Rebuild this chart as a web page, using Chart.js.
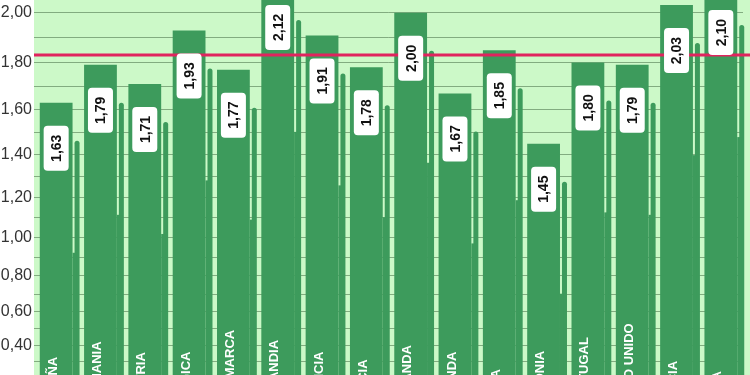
<!DOCTYPE html>
<html lang="es">
<head>
<meta charset="utf-8">
<title>Gráfico por países</title>
<script src="https://cdn.jsdelivr.net/npm/chart.js@4.4.1/dist/chart.umd.min.js"></script>
<style>
    html, body { margin: 0; padding: 0; background: #ffffff; }
    #contenedor { position: relative; width: 750px; height: 375px; overflow: hidden; }
</style>
</head>
<body>
<div id="contenedor"><canvas id="grafico"></canvas></div>
<script>
// Datos del gráfico
const paises = ['ESPAÑA', 'ALEMANIA', 'AUSTRIA', 'BÉLGICA', 'DINAMARCA', 'FINLANDIA', 'FRANCIA', 'GRECIA',
    'HOLANDA', 'IRLANDA', 'ITALIA', 'POLONIA', 'PORTUGAL', 'REINO UNIDO', 'SUECIA', 'SUIZA'];
const valores = [1.63, 1.79, 1.71, 1.93, 1.77, 2.12, 1.91, 1.78, 2.00, 1.67, 1.85, 1.45, 1.80, 1.79, 2.03, 2.10];
const media = 1.83;

// Líneas de la cuadrícula y etiquetas del eje Y
const lineasGuia = [0.3, 0.4, 0.5, 0.6, 0.7, 0.8, 0.9, 1.0, 1.1, 1.2, 1.3, 1.4, 1.5, 1.6, 1.7, 1.8, 1.9, 2.0];
const etiquetasEje = ['0,20', '0,40', '0,60', '0,80', '1,00', '1,20', '1,40', '1,60', '1,80', '2,00'];

const VERDE_BARRA = '#3d9b5c';
const VERDE_FONDO = '#ccf9c8';
const CURVA = 0.26; // el eje de la imagen original se estira hacia arriba

function formatoComa(v) {
    return v.toFixed(2).replace('.', ',');
}

// Escala lineal con una ligera curvatura (perspectiva de la foto original)
class EscalaCurva extends Chart.LinearScale {
    getPixelForValue(value) {
        if (value === undefined || value === null) {
            return NaN;
        }
        const t = (value - this.min) / (this.max - this.min);
        return this.getPixelForDecimal(t * (1 - CURVA + CURVA * t));
    }
    getValueForPixel(pixel) {
        const d = this.getDecimalForPixel(pixel);
        const b = 1 - CURVA;
        const t = (-b + Math.sqrt(b * b + 4 * CURVA * d)) / (2 * CURVA);
        return this.min + t * (this.max - this.min);
    }
}
EscalaCurva.id = 'curva';
EscalaCurva.defaults = Chart.LinearScale.defaults;
Chart.register(EscalaCurva);

// Fondo verde claro del área de trazado
const pluginFondo = {
    id: 'fondo',
    beforeDraw(chart) {
        const { ctx, chartArea } = chart;
        ctx.save();
        ctx.fillStyle = VERDE_FONDO;
        ctx.fillRect(chartArea.left, chartArea.top, chart.width - chartArea.left, chartArea.bottom - chartArea.top);
        ctx.restore();
    }
};

// Sombra estrecha a la derecha de cada barra (como en la imagen original)
const pluginSombra = {
    id: 'sombra',
    beforeDatasetsDraw(chart) {
        const { ctx, chartArea } = chart;
        const meta = chart.getDatasetMeta(0);
        ctx.save();
        ctx.fillStyle = VERDE_BARRA;
        meta.data.forEach(barra => {
            const x = barra.x + barra.width / 2 + 2;
            const top = Math.max(barra.y + 38, chartArea.top);
            ctx.beginPath();
            ctx.roundRect(x, top, 5, chartArea.bottom - top, [3, 3, 0, 0]);
            ctx.fill();
            // franja inferior más ancha
            const top2 = barra.y + 150;
            ctx.fillRect(x - 2, top2, 4, chartArea.bottom - top2);
        });
        ctx.restore();
    }
};

// Línea de la media, etiquetas de valor y nombres de países
const pluginEtiquetas = {
    id: 'etiquetas',
    afterDatasetsDraw(chart) {
        const { ctx, chartArea } = chart;
        const escalaY = chart.scales.y;
        const meta = chart.getDatasetMeta(0);

        ctx.save();
        ctx.beginPath();
        ctx.rect(chartArea.left, chartArea.top, chart.width - chartArea.left, chartArea.bottom - chartArea.top);
        ctx.clip();

        // Nombres de los países dentro de las barras
        ctx.fillStyle = '#ffffff';
        ctx.font = 'bold 13px "Liberation Sans", Arial, sans-serif';
        ctx.textAlign = 'left';
        ctx.textBaseline = 'middle';
        meta.data.forEach((barra, i) => {
            ctx.save();
            ctx.translate(barra.x - 3, chartArea.bottom + 35);
            ctx.rotate(-Math.PI / 2);
            ctx.fillText(paises[i], 0, 0);
            ctx.restore();
        });

        // Línea roja de la media
        const yMedia = escalaY.getPixelForValue(media);
        ctx.strokeStyle = '#e0245e';
        ctx.lineWidth = 3;
        ctx.beginPath();
        ctx.moveTo(chartArea.left, yMedia);
        ctx.lineTo(chart.width, yMedia);
        ctx.stroke();

        // Cajas blancas con el valor
        ctx.font = 'bold 14px "Liberation Sans", Arial, sans-serif';
        ctx.textAlign = 'center';
        meta.data.forEach((barra, i) => {
            const top = barra.y + 23;
            ctx.fillStyle = '#ffffff';
            ctx.beginPath();
            ctx.roundRect(barra.x - 12.5, top, 25, 45, 4);
            ctx.fill();
            ctx.save();
            ctx.translate(barra.x, top + 22.5);
            ctx.rotate(-Math.PI / 2);
            ctx.fillStyle = '#111111';
            ctx.fillText(formatoComa(valores[i]), 0, 1);
            ctx.restore();
        });
        ctx.restore();
    }
};

const ctx = document.getElementById('grafico').getContext('2d');
new Chart(ctx, {
    type: 'bar',
    data: {
        labels: paises,
        datasets: [{
            data: valores,
            backgroundColor: VERDE_BARRA,
            borderWidth: 0,
            barPercentage: 0.74,
            categoryPercentage: 1.0
        }]
    },
    options: {
        responsive: true,
        maintainAspectRatio: false,
        animation: false,
        layout: { padding: { left: 0, right: 7, top: 0, bottom: 0 } },
        plugins: {
            legend: { display: false },
            tooltip: { enabled: false }
        },
        scales: {
            x: {
                display: false,
                offset: true
            },
            y: {
                type: 'curva',
                min: 0.21,
                max: 2.05,
                border: { display: false },
                grid: {
                    color: 'rgba(70, 110, 70, 0.55)',
                    lineWidth: 1,
                    drawTicks: false
                },
                afterBuildTicks(scale) {
                    scale.ticks = lineasGuia.map(v => ({ value: v }));
                },
                afterFit(scale) {
                    scale.width = 34;
                    scale.paddingTop = 0;
                    scale.paddingBottom = 0;
                },
                ticks: {
                    autoSkip: false,
                    padding: 2,
                    color: '#333333',
                    font: { family: '"Liberation Sans", Arial, sans-serif', size: 16 },
                    callback(value) {
                        const texto = formatoComa(value);
                        return etiquetasEje.includes(texto) ? texto : '';
                    }
                }
            }
        }
    },
    plugins: [pluginFondo, pluginSombra, pluginEtiquetas]
});
</script>
</body>
</html>
